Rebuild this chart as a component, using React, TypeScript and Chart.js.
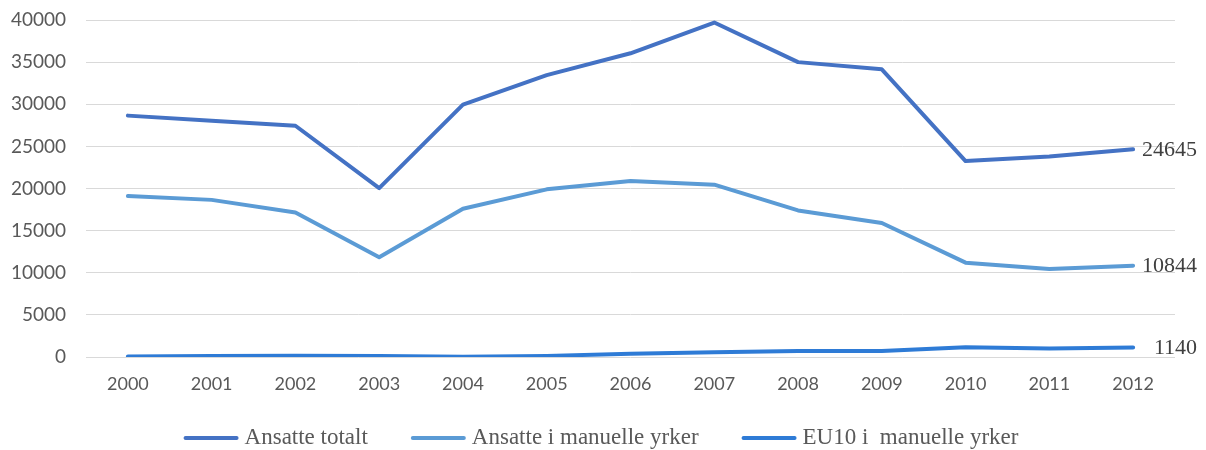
import React, { useEffect, useRef } from "react";
import { Chart, registerables } from "chart.js";

Chart.register(...registerables);

const years = ["2000","2001","2002","2003","2004","2005","2006","2007","2008","2009","2010","2011","2012"];
const totalt = [28650, 28050, 27450, 20050, 29950, 33450, 36050, 39700, 35000, 34150, 23250, 23800, 24645];
const manuelle = [19100, 18650, 17150, 11850, 17600, 19900, 20900, 20450, 17400, 15900, 11200, 10450, 10844];
const eu10 = [50, 120, 150, 120, 20, 120, 400, 550, 700, 720, 1150, 1000, 1140];
const seriesNames = ["Ansatte totalt", "Ansatte i manuelle yrker", "EU10 i  manuelle yrker"];
const seriesColors = ["#4472C4", "#5B9BD5", "#2E7BD6"];
const yTicks = [0, 5000, 10000, 15000, 20000, 25000, 30000, 35000, 40000];

const SERIF = "'Liberation Serif', 'Times New Roman', serif";
const SANS = "Lato, 'Liberation Sans', sans-serif";

const lastLabelPlugin = {
  id: "lastLabel",
  afterDatasetsDraw(chart: any) {
    const ctx = chart.ctx;
    ctx.save();
    ctx.font = `22px ${SERIF}`;
    ctx.fillStyle = "#404040";
    ctx.textBaseline = "middle";
    ctx.textAlign = "right";
    chart.data.datasets.forEach((ds: any, i: number) => {
      const meta = chart.getDatasetMeta(i);
      const pt = meta.data[meta.data.length - 1];
      const v = ds.data[ds.data.length - 1];
      ctx.fillText(String(v), pt.x + 64, pt.y + 1);
    });
    ctx.restore();
  },
};

const legendPlugin = {
  id: "customLegend",
  afterDraw(chart: any) {
    const ctx = chart.ctx;
    ctx.save();
    ctx.font = `23px ${SERIF}`;
    const lineW = 55, gapText = 6, gapItem = 43;
    const widths = seriesNames.map((n) => lineW + gapText + ctx.measureText(n).width);
    const total = widths.reduce((a, b) => a + b, 0) + gapItem * (widths.length - 1);
    let x = 601 - total / 2;
    const y = 438;
    ctx.textBaseline = "middle";
    ctx.textAlign = "left";
    seriesNames.forEach((n, i) => {
      ctx.strokeStyle = seriesColors[i];
      ctx.lineWidth = 4;
      ctx.lineCap = "round";
      ctx.beginPath();
      ctx.moveTo(x + 2, y);
      ctx.lineTo(x + lineW - 2, y);
      ctx.stroke();
      ctx.fillStyle = "#595959";
      ctx.fillText(n, x + lineW + gapText, y);
      x += widths[i] + gapItem;
    });
    ctx.restore();
  },
};

export default function App() {
  const ref = useRef<HTMLCanvasElement>(null);
  useEffect(() => {
    document.body.style.margin = "0";
    const chart = new Chart(ref.current!, {
      type: "line",
      data: {
        labels: years,
        datasets: [0, 1, 2].map((i) => ({
          label: seriesNames[i],
          data: [totalt, manuelle, eu10][i],
          borderColor: seriesColors[i],
          backgroundColor: seriesColors[i],
          borderWidth: 4,
          pointRadius: 0,
          tension: 0,
          borderCapStyle: "round",
          borderJoinStyle: "round",
        })),
      },
      options: {
        animation: false,
        responsive: false,
        layout: { padding: { left: 0, right: 31, top: 20, bottom: 43 } },
        plugins: {
          tooltip: { enabled: false },
          legend: { display: false },
        },
        scales: {
          x: {
            offset: true,
            grid: { display: false },
            border: { display: false },
            afterFit: (s: any) => { s.height = 50; s.paddingLeft = 0; s.paddingRight = 0; },
            ticks: { color: "#595959", font: { family: SANS, size: 18 }, padding: 8, maxRotation: 0 },
          },
          y: {
            min: 0,
            max: 40000,
            afterBuildTicks: (s: any) => { s.ticks = yTicks.map((v) => ({ value: v })); },
            afterFit: (s: any) => { s.width = 86; s.paddingTop = 0; s.paddingBottom = 0; },
            grid: { color: "#D9D9D9", lineWidth: 1, drawTicks: false },
            border: { display: false },
            ticks: {
              color: "#595959",
              font: { family: SANS, size: 19 },
              padding: 20,
              callback: (v: any) => String(v),
            },
          },
        },
      },
      plugins: [lastLabelPlugin, legendPlugin],
    } as any);
    return () => chart.destroy();
  }, []);
  return <canvas ref={ref} width={1206} height={450} style={{ display: "block" }} />;
}
